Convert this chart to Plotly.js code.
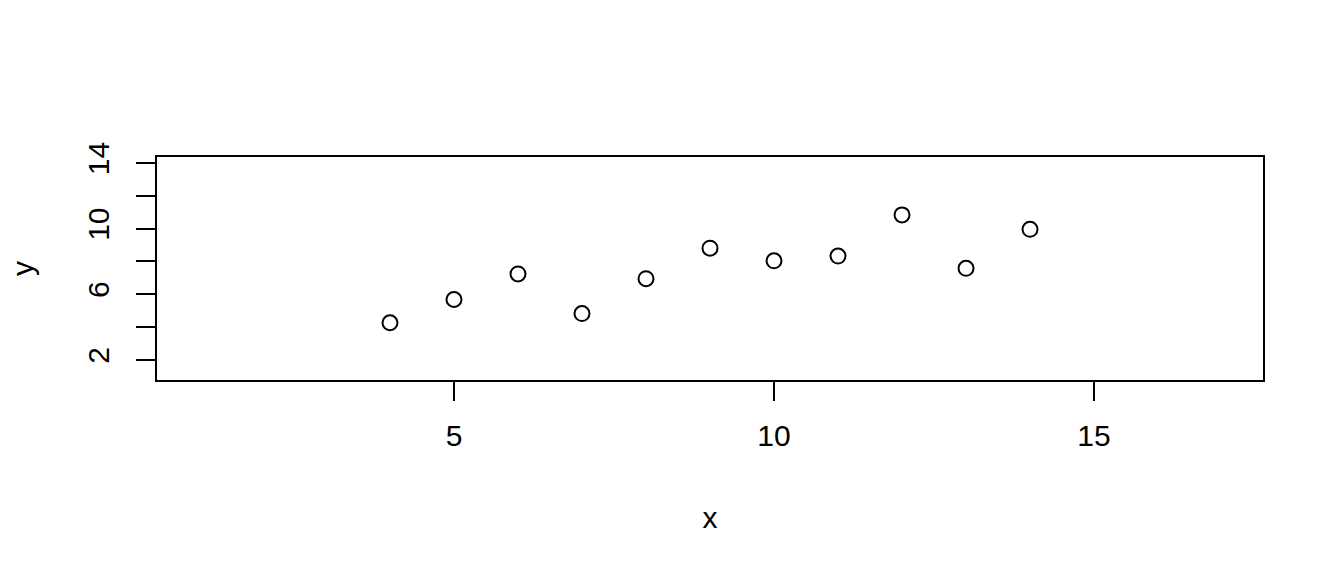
<!DOCTYPE html>
<html>
<head>
<meta charset="utf-8">
<script src="https://cdn.plot.ly/plotly-3.0.1.min.js"></script>
<style>html,body{margin:0;padding:0;background:#fff;}#chart{width:1344px;height:576px;}</style>
</head>
<body>
<div id="chart"></div>
<script>
const xValues = [10, 8, 13, 9, 11, 14, 6, 4, 12, 7, 5];
const yValues = [8.04, 6.95, 7.58, 8.81, 8.33, 9.96, 7.24, 4.26, 10.84, 4.82, 5.68];
const xTickVals = [5, 10, 15];
const xTickText = ['5', '10', '15'];
const yTickVals = [2, 4, 6, 8, 10, 12, 14];
const yTickText = ['2', '', '6', '', '10', '', '14'];
const xTitle = 'x';
const yTitle = 'y';

const font = {family: 'Liberation Sans, Arial, sans-serif', size: 30, color: '#000'};

const trace = {
  x: xValues, y: yValues, type: 'scatter', mode: 'markers',
  marker: {symbol: 'circle-open', size: 15, color: '#000', line: {width: 2, color: '#000'}},
  hoverinfo: 'skip'
};

const layout = {
  width: 1344, height: 576,
  margin: {l: 157, r: 81, t: 157, b: 196},
  paper_bgcolor: '#fff', plot_bgcolor: '#fff',
  showlegend: false,
  font: font,
  xaxis: {
    range: [0.36, 17.64], showgrid: false, zeroline: false,
    showline: true, mirror: true, linecolor: '#000', linewidth: 2,
    ticks: 'outside', ticklen: 19, tickwidth: 2, tickcolor: '#000',
    tickmode: 'array', tickvals: xTickVals, ticktext: xTickText,
    tickfont: font, ticklabelstandoff: 9,
    title: {text: xTitle, font: font, standoff: 56}, automargin: false
  },
  yaxis: {
    range: [0.77, 14.37], showgrid: false, zeroline: false,
    showline: true, mirror: true, linecolor: '#000', linewidth: 2,
    ticks: 'outside', ticklen: 19, tickwidth: 2, tickcolor: '#000',
    tickmode: 'array', tickvals: yTickVals, ticktext: yTickText,
    tickangle: -90, tickfont: font, ticklabelstandoff: 15,
    title: {text: yTitle, font: font, standoff: 40}, automargin: false
  }
};

Plotly.newPlot('chart', [trace], layout, {staticPlot: true, displayModeBar: false});
</script>
</body>
</html>
